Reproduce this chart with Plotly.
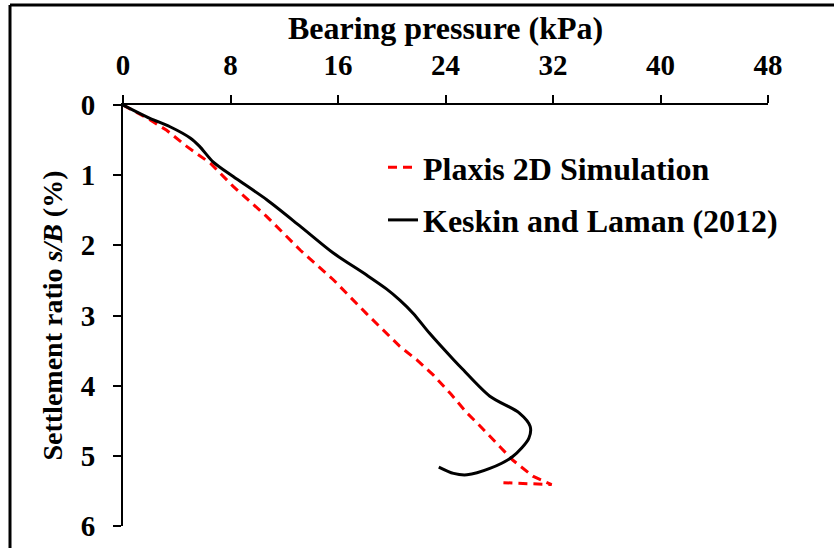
import plotly.graph_objects as go

# ---- data ----
plaxis_x = [0, 2.0, 3.25, 4.74, 6.5, 8.2, 10.7, 13.2, 15.65, 18.1, 20.6, 21.85, 23.1,
            24.4, 25.6, 26.4, 28.05, 29.0, 30.5, 31.9, 28.0]
plaxis_y = [0, 0.21, 0.36, 0.59, 0.83, 1.16, 1.59, 2.07, 2.49, 2.97, 3.44, 3.63, 3.85,
            4.12, 4.39, 4.54, 4.87, 5.06, 5.29, 5.41, 5.38]

keskin_x = [0, 2.0, 3.5, 5.0, 5.7, 6.7, 8.2, 10.7, 13.2, 15.65, 18.1, 19.6, 20.6, 21.6,
            22.8, 24.6, 25.3, 27.3, 29.5, 30.3, 30.2, 29.0, 27.3, 25.6, 24.6, 23.5]
keskin_y = [0, 0.19, 0.31, 0.47, 0.59, 0.81, 1.02, 1.35, 1.73, 2.11, 2.42, 2.62, 2.78, 2.97,
            3.25, 3.63, 3.77, 4.15, 4.39, 4.58, 4.75, 5.01, 5.18, 5.27, 5.25, 5.16]

x_ticks = [0, 8, 16, 24, 32, 40, 48]
y_ticks = [0, 1, 2, 3, 4, 5, 6]

series_names = ["Plaxis 2D Simulation", "Keskin and Laman (2012)"]

FONT = "Liberation Serif"

fig = go.Figure()
fig.add_trace(go.Scatter(
    x=plaxis_x, y=plaxis_y, mode="lines", name=series_names[0],
    line=dict(color="#ff0000", width=3, dash="9px,6px"),
    legendgroup="a",
))
fig.add_trace(go.Scatter(
    x=keskin_x, y=keskin_y, mode="lines", name=series_names[1],
    line=dict(color="black", width=3, shape="spline", smoothing=0.8),
    legendgroup="b",
))

# plot area in pixels: x 123..768, y 105..526
L, R, T, B = 123, 66, 105, 22
W, H = 834, 548
pw, ph = W - L - R, H - T - B

def px_x(p):
    return (p - L) / pw

def px_y(p):
    return (H - B - p) / ph

fig.update_layout(
    width=W, height=H,
    margin=dict(l=L, r=R, t=T, b=B, pad=0, autoexpand=False),
    paper_bgcolor="white", plot_bgcolor="white",
    font=dict(family=FONT, color="black", size=29, weight="bold"),
    showlegend=True,
    legend=dict(
        x=px_x(383), y=px_y(140), xanchor="left", yanchor="top",
        font=dict(family=FONT, size=32, color="black", weight="bold"),
        bgcolor="rgba(0,0,0,0)", borderwidth=0,
        traceorder="grouped", tracegroupgap=8,
        itemwidth=30,
    ),
    xaxis=dict(
        side="top", range=[0, 48], tickvals=x_ticks, ticktext=[str(v) for v in x_ticks],
        showgrid=False, zeroline=False, automargin=False,
        showline=True, linecolor="black", linewidth=2,
        ticks="outside", ticklen=8, tickwidth=2, tickcolor="black",
        tickfont=dict(family=FONT, size=29, color="black", weight="bold"),
        ticklabelstandoff=8,
        title=dict(text="Bearing pressure (kPa)",
                   font=dict(family=FONT, size=32, color="black", weight="bold"),
                   standoff=0),
    ),
    yaxis=dict(
        range=[6, 0], tickvals=y_ticks, ticktext=[str(v) for v in y_ticks],
        showgrid=False, zeroline=False, automargin=False,
        showline=True, linecolor="black", linewidth=2,
        ticks="outside", ticklen=8, tickwidth=2, tickcolor="black",
        tickfont=dict(family=FONT, size=29, color="black", weight="bold"),
        ticklabelstandoff=12,
        title=dict(text="Settlement ratio <i>s/B</i> (%)",
                   font=dict(family=FONT, size=28, color="black", weight="bold"),
                   standoff=10),
    ),
    shapes=[
        dict(type="line", xref="paper", yref="paper",
             x0=px_x(10), x1=px_x(840), y0=px_y(5), y1=px_y(5),
             line=dict(color="black", width=3)),
        dict(type="line", xref="paper", yref="paper",
             x0=px_x(10), x1=px_x(10), y0=px_y(5), y1=px_y(560),
             line=dict(color="black", width=3)),
    ],
)

fig.write_html("out.html")
